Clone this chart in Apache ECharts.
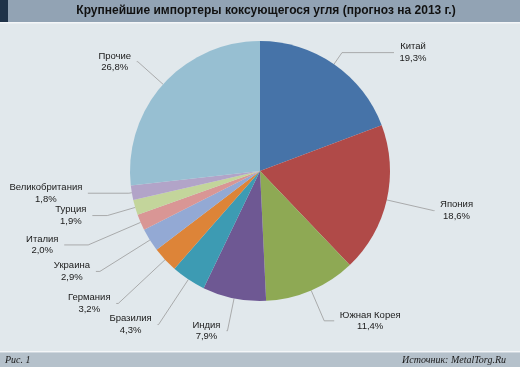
<!DOCTYPE html>
<html><head><meta charset="utf-8">
<script src="https://cdn.jsdelivr.net/npm/echarts@6/dist/echarts.min.js"></script>
<style>html,body{margin:0;padding:0;background:#e1e8ec;}#c{width:520px;height:367px;}</style>
</head><body><div id="c"></div>
<script>
const titleText = 'Крупнейшие импортеры коксующегося угля (прогноз на 2013 г.)';
const categories = ['Китай','Япония','Южная Корея','Индия','Бразилия','Германия','Украина','Италия','Турция','Великобритания','Прочие'];
const values = [19.3,18.6,11.4,7.9,4.3,3.2,2.9,2.0,1.9,1.8,26.8];
const figLabel = 'Рис. 1';
const sourceLabel = 'Источник: MetalTorg.Ru';

// styles (kept separate from data)
const colors = ['#4673a8','#b04a48','#8ea954','#6e5893','#3d9bb3','#dd8438','#93a9d4','#d99695','#c3d59b','#b2a4c8','#97bfd2'];
const lineLen1 = [14,48,33,33,54,64,59,57,29,3,34];
const lineLen2 = [52,1,10,1,1,2,4,24,15,41,1];

const labelFontSize = 9.5;
const labelFontFamily = '"Liberation Sans", Arial, Helvetica, sans-serif';
const ctx = document.createElement('canvas').getContext('2d');
ctx.font = labelFontSize + 'px ' + labelFontFamily;
const fmtVal = v => v.toFixed(1).replace('.', ',') + '%';

const chart = echarts.init(document.getElementById('c'), null, {renderer:'canvas'});
chart.setOption({
  backgroundColor: '#e1e8ec',
  animation: false,
  graphic: [
    {type:'rect', shape:{x:0,y:0,width:520,height:22}, style:{fill:'#92a3b4'}, z:-1},
    {type:'rect', shape:{x:0,y:0,width:8,height:22}, style:{fill:'#1f3349'}, z:-1},
    {type:'rect', shape:{x:0,y:22,width:520,height:1.5}, style:{fill:'#f4f6f8'}, z:-1},
    {type:'rect', shape:{x:0,y:351,width:520,height:1.5}, style:{fill:'#f4f6f8'}, z:-1},
    {type:'rect', shape:{x:0,y:352.5,width:520,height:15}, style:{fill:'#b5c1cb'}, z:-1},
    {type:'text', x:266, y:11, style:{text:titleText, font:'bold 12px "Liberation Sans", Arial, Helvetica, sans-serif', fill:'#111', textAlign:'center', textVerticalAlign:'middle'}},
    {type:'text', x:5, y:360, style:{text:figLabel, font:'italic 10px "Liberation Serif", serif', fill:'#1a1a1a', textAlign:'left', textVerticalAlign:'middle'}},
    {type:'text', x:506, y:360, style:{text:sourceLabel, font:'italic 10px "Liberation Serif", serif', fill:'#1a1a1a', textAlign:'right', textVerticalAlign:'middle'}}
  ],
  series: [{
    type: 'pie',
    center: [260, 171],
    radius: 130,
    startAngle: 90,
    clockwise: true,
    avoidLabelOverlap: false,
    labelLayout: {hideOverlap: false},
    data: categories.map((n,i)=>{
      const w = Math.ceil(Math.max(ctx.measureText(n).width, ctx.measureText(fmtVal(values[i])).width)) + 1;
      return {
        name:n, value:values[i], itemStyle:{color:colors[i]},
        labelLine:{length:lineLen1[i], length2:lineLen2[i]},
        label:{rich:{t:{width:w, align:'center', fontSize:labelFontSize, fontFamily:labelFontFamily, color:'#1a1a1a', lineHeight:11.5}}}
      };
    }),
    label: {
      formatter: p => '{t|' + p.name + '}\n{t|' + fmtVal(p.value) + '}',
      fontFamily: labelFontFamily,
      fontSize: labelFontSize, color: '#1a1a1a', lineHeight: 11.5,
      distanceToLabelLine: 5
    },
    labelLine: { lineStyle: {color:'#9a9a9a', width:0.8} },
    itemStyle: {borderWidth:0}
  }]
});
</script></body></html>
